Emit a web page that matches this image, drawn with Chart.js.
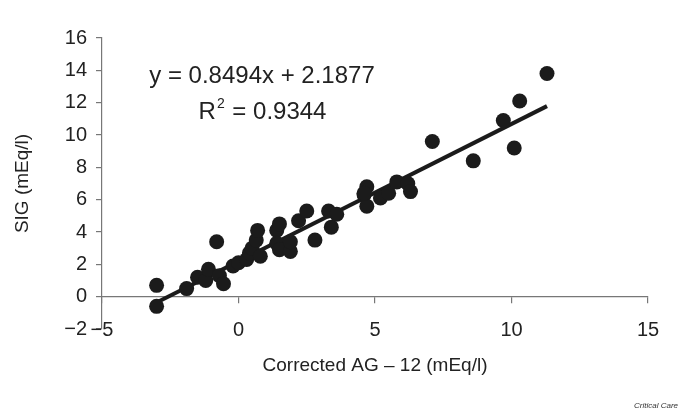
<!DOCTYPE html>
<html>
<head>
<meta charset="utf-8">
<script src="https://cdn.jsdelivr.net/npm/chart.js@4.4.0/dist/chart.umd.min.js"></script>
<style>
  body { margin: 0; background: #fff; }
  #wrap { position: relative; width: 685px; height: 410px; }
  #credit { position: absolute; right: 7px; bottom: 0px; font: italic 8px "Liberation Sans", Arial, sans-serif; color: #333; }
</style>
</head>
<body>
<div id="wrap">
  <canvas id="chart" width="685" height="410"></canvas>
  <div id="credit">Critical Care</div>
</div>
<script>
// corrected anion gap - 12 (mEq/l)
const agValues = [-3.0, -3.0, -1.9, -1.5, -1.2, -1.1, -0.8, -0.7, -0.55, -0.2, 0.0, 0.3, 0.4, 0.5, 0.65, 0.7, 0.8,
  1.4, 1.5, 1.4, 1.5, 1.9, 1.9, 2.2, 2.5, 2.8, 3.3, 3.4, 3.6, 4.6, 4.7, 4.7, 4.6, 5.2, 5.5, 5.8, 6.2, 6.3,
  7.1, 8.6, 9.7, 10.1, 10.3, 11.3];
// strong ion gap (mEq/l)
const sigValues = [0.7, -0.6, 0.5, 1.2, 1.0, 1.7, 3.4, 1.3, 0.8, 1.9, 2.1, 2.3, 2.7, 3.0, 3.5, 4.1, 2.5,
  4.1, 4.5, 3.3, 2.9, 2.8, 3.4, 4.7, 5.3, 3.5, 5.3, 4.3, 5.1, 6.3, 6.8, 5.6, 6.4, 6.1, 6.4, 7.1, 7.0, 6.5,
  9.6, 8.4, 10.9, 9.2, 12.1, 13.8];

const slope = 0.8494;
const intercept = 2.1877;
const rSquared = 0.9344;
const fitRange = [-3.0, 11.3];

const xTicks = [-5, 0, 5, 10, 15];
const yTicks = [-2, 0, 2, 4, 6, 8, 10, 12, 14, 16];

const points = agValues.map((v, i) => ({ x: v, y: sigValues[i] }));
const fitLine = fitRange.map(v => ({ x: v, y: slope * v + intercept }));

const minus = v => String(v).replace('-', '\u2212');

const equationPlugin = {
  id: 'equation',
  afterDraw(chart) {
    const ctx = chart.ctx;
    ctx.save();
    ctx.fillStyle = '#222';
    ctx.textBaseline = 'middle';
    ctx.font = '24px "Liberation Sans", Arial, sans-serif';
    ctx.textAlign = 'center';
    ctx.fillText('y = ' + slope + 'x + ' + intercept, 262, 76);

    // R² line, centred as a whole
    const rest = ' = ' + rSquared;
    const wR = ctx.measureText('R').width;
    const wRest = ctx.measureText(rest).width;
    ctx.font = '14px "Liberation Sans", Arial, sans-serif';
    const wSup = ctx.measureText('2').width + 1;
    let x = 262 - (wR + wSup + wRest) / 2;
    ctx.textAlign = 'left';
    ctx.font = '24px "Liberation Sans", Arial, sans-serif';
    ctx.fillText('R', x, 112);
    x += wR + 1;
    ctx.font = '14px "Liberation Sans", Arial, sans-serif';
    ctx.fillText('2', x, 104);
    x += wSup;
    ctx.font = '24px "Liberation Sans", Arial, sans-serif';
    ctx.fillText(rest, x, 112);
    ctx.restore();
  }
};

new Chart(document.getElementById('chart'), {
  type: 'scatter',
  data: {
    datasets: [
      {
        label: 'SIG',
        data: points,
        backgroundColor: '#1b1b1b',
        borderWidth: 0,
        pointRadius: 7.5,
        pointHoverRadius: 7.5
      },
      {
        label: 'fit',
        type: 'line',
        data: fitLine,
        borderColor: '#1b1b1b',
        borderWidth: 4,
        pointRadius: 0,
        fill: false
      }
    ]
  },
  options: {
    responsive: false,
    animation: false,
    layout: { padding: { top: 38, right: 37, bottom: 81, left: 0 } },
    plugins: {
      legend: { display: false },
      tooltip: { enabled: false }
    },
    scales: {
      x: {
        type: 'linear',
        position: { y: 0 },
        min: -5,
        max: 15,
        afterBuildTicks: s => { s.ticks = xTicks.map(v => ({ value: v })); },
        grid: { drawOnChartArea: false, tickLength: 6, color: '#777', lineWidth: 1.2 },
        border: { color: '#777', width: 1.2 },
        ticks: {
          padding: 16,
          color: '#222',
          font: { family: '"Liberation Sans", Arial, sans-serif', size: 20 },
          callback: v => minus(v)
        },
        title: {
          display: true,
          text: 'Corrected AG \u2013 12 (mEq/l)',
          color: '#222',
          font: { family: '"Liberation Sans", Arial, sans-serif', size: 19 },
          padding: { top: -4, bottom: 0 }
        }
      },
      y: {
        type: 'linear',
        min: -2,
        max: 16,
        afterBuildTicks: s => { s.ticks = yTicks.map(v => ({ value: v })); },
        afterFit: s => { s.width = 102; },
        grid: { drawOnChartArea: false, tickLength: 6, color: '#777', lineWidth: 1.2 },
        border: { color: '#777', width: 1.2 },
        ticks: {
          padding: 9,
          color: '#222',
          font: { family: '"Liberation Sans", Arial, sans-serif', size: 20 },
          callback: v => minus(v)
        },
        title: {
          display: true,
          text: 'SIG (mEq/l)',
          color: '#222',
          font: { family: '"Liberation Sans", Arial, sans-serif', size: 19 },
          padding: { top: 11, bottom: 0 }
        }
      }
    }
  },
  plugins: [equationPlugin]
});
</script>
</body>
</html>
